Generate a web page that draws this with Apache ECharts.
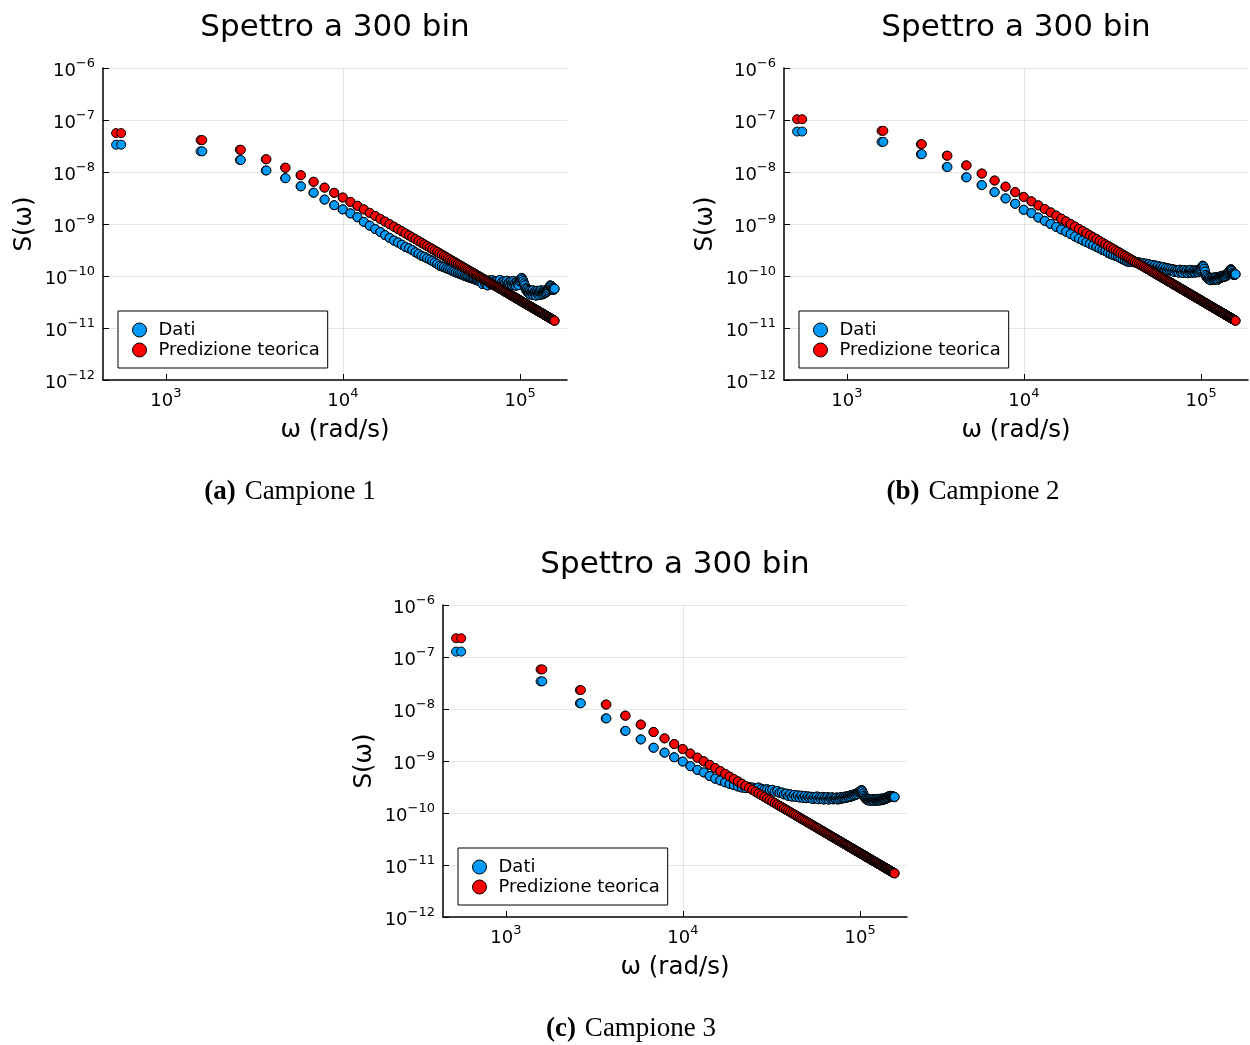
<!DOCTYPE html>
<html>
<head>
<meta charset="utf-8">
<script src="https://cdn.jsdelivr.net/npm/echarts@6/dist/echarts.min.js"></script>
<style>
  html, body { margin: 0; padding: 0; background: #ffffff; }
  #chart { width: 1250px; height: 1045px; }
</style>
</head>
<body>
<div id="chart"></div>
<script>
// Spectral values are listed in units of 1e-9.
const UNIT = 1e-9;

// Each spectrum has 300 bins: 150 pairs of neighbouring angular frequencies (rad/s) sharing one value.
const omegaA = [524, 1571, 2618, 3665, 4712, 5760, 6807, 7854, 8901, 9948,
  10996, 12043, 13090, 14137, 15184, 16232, 17279, 18326, 19373, 20420,
  21468, 22515, 23562, 24609, 25656, 26704, 27751, 28798, 29845, 30892,
  31940, 32987, 34034, 35081, 36128, 37176, 38223, 39270, 40317, 41364,
  42412, 43459, 44506, 45553, 46600, 47648, 48695, 49742, 50789, 51836,
  52884, 53931, 54978, 56025, 57072, 58120, 59167, 60214, 61261, 62308,
  63356, 64403, 65450, 66497, 67544, 68592, 69639, 70686, 71733, 72780,
  73828, 74875, 75922, 76969, 78016, 79064, 80111, 81158, 82205, 83252,
  84300, 85347, 86394, 87441, 88488, 89536, 90583, 91630, 92677, 93724,
  94772, 95819, 96866, 97913, 98960, 100008, 101055, 102102, 103149, 104196,
  105244, 106291, 107338, 108385, 109432, 110480, 111527, 112574, 113621, 114668,
  115716, 116763, 117810, 118857, 119904, 120952, 121999, 123046, 124093, 125140,
  126188, 127235, 128282, 129329, 130376, 131424, 132471, 133518, 134565, 135612,
  136660, 137707, 138754, 139801, 140848, 141896, 142943, 143990, 145037, 146084,
  147132, 148179, 149226, 150273, 151320, 152368, 153415, 154462, 155509, 156556];

const omegaB = [560, 1607, 2654, 3701, 4748, 5796, 6843, 7890, 8937, 9984,
  11032, 12079, 13126, 14173, 15220, 16268, 17315, 18362, 19409, 20456,
  21504, 22551, 23598, 24645, 25692, 26740, 27787, 28834, 29881, 30928,
  31976, 33023, 34070, 35117, 36164, 37212, 38259, 39306, 40353, 41400,
  42448, 43495, 44542, 45589, 46636, 47684, 48731, 49778, 50825, 51872,
  52920, 53967, 55014, 56061, 57108, 58156, 59203, 60250, 61297, 62344,
  63392, 64439, 65486, 66533, 67580, 68628, 69675, 70722, 71769, 72816,
  73864, 74911, 75958, 77005, 78052, 79100, 80147, 81194, 82241, 83288,
  84336, 85383, 86430, 87477, 88524, 89572, 90619, 91666, 92713, 93760,
  94808, 95855, 96902, 97949, 98996, 100044, 101091, 102138, 103185, 104232,
  105280, 106327, 107374, 108421, 109468, 110516, 111563, 112610, 113657, 114704,
  115752, 116799, 117846, 118893, 119940, 120988, 122035, 123082, 124129, 125176,
  126224, 127271, 128318, 129365, 130412, 131460, 132507, 133554, 134601, 135648,
  136696, 137743, 138790, 139837, 140884, 141932, 142979, 144026, 145073, 146120,
  147168, 148215, 149262, 150309, 151356, 152404, 153451, 154498, 155545, 156592];

// Campione 1
const datiA = [33.5, 25, 17, 10.7, 7.6, 5.3, 4.0, 2.95, 2.3, 1.91,
  1.6, 1.35, 1.1, 0.93, 0.8, 0.7, 0.61, 0.54, 0.48, 0.44,
  0.4, 0.36, 0.34, 0.315, 0.285, 0.266, 0.245, 0.234, 0.219, 0.207,
  0.195, 0.182, 0.17, 0.158, 0.153, 0.148, 0.141, 0.136, 0.132, 0.126,
  0.122, 0.117, 0.114, 0.11, 0.107, 0.104, 0.1, 0.098, 0.096, 0.093,
  0.091, 0.089, 0.087, 0.085, 0.083, 0.081, 0.079,
  0.081, 0.07, 0.084, 0.072, 0.077, 0.066, 0.082, 0.074, 0.069, 0.083,
  0.071, 0.078, 0.065, 0.08, 0.073, 0.068, 0.084, 0.07, 0.076, 0.064,
  0.079, 0.072, 0.067, 0.081, 0.069, 0.075, 0.063, 0.078, 0.071, 0.066,
  0.08, 0.068, 0.074, 0.065, 0.077, 0.07, 0.067, 0.079,
  0.083, 0.088, 0.092, 0.086, 0.08, 0.072, 0.066,
  0.058, 0.053, 0.057, 0.049, 0.054, 0.046, 0.052, 0.044, 0.05, 0.047,
  0.053, 0.043, 0.049, 0.046, 0.051, 0.042, 0.048, 0.052, 0.045, 0.049,
  0.043, 0.05, 0.046, 0.053, 0.044, 0.048, 0.051, 0.045, 0.05, 0.047,
  0.053, 0.048, 0.052, 0.05, 0.055, 0.053, 0.058, 0.057,
  0.063, 0.066, 0.061, 0.064, 0.058, 0.06, 0.054, 0.058, 0.055, 0.057];

const predA = [56.0, 41.1, 26.8, 17.6, 12.1, 8.68, 6.49, 5.01, 3.98, 3.23,
  2.67, 2.24, 1.91, 1.64, 1.43, 1.256, 1.111, 0.989, 0.887, 0.799,
  0.724, 0.659, 0.6025, 0.553, 0.509, 0.470, 0.4356, 0.4047, 0.377, 0.352,
  0.3294, 0.309, 0.2904, 0.2734, 0.2578, 0.2435, 0.2304, 0.2184, 0.2072, 0.1969,
  0.1873, 0.1784, 0.1701, 0.1624, 0.1552, 0.1485, 0.1422, 0.1363, 0.1307, 0.1255,
  0.1206, 0.1162, 0.1118, 0.1077, 0.1038, 0.1001, 0.0966, 0.0932, 0.0901, 0.0871,
  0.0842, 0.0815, 0.0789, 0.0764, 0.0741, 0.0718, 0.0697, 0.0676, 0.0657, 0.0638,
  0.0620, 0.0603, 0.0586, 0.0571, 0.0555, 0.0541, 0.0527, 0.0513, 0.0500, 0.0488,
  0.0476, 0.0464, 0.0453, 0.0442, 0.0432, 0.0422, 0.0412, 0.0403, 0.0394, 0.0385,
  0.0376, 0.0368, 0.0360, 0.0353, 0.0345, 0.0338, 0.0331, 0.0324, 0.0318, 0.0311,
  0.0305, 0.0299, 0.0293, 0.0288, 0.0282, 0.0277, 0.0272, 0.0267, 0.0262, 0.0257,
  0.0252, 0.0248, 0.0244, 0.0239, 0.0235, 0.0231, 0.0227, 0.0223, 0.0219, 0.0216,
  0.0212, 0.0209, 0.0205, 0.0202, 0.0199, 0.0196, 0.0193, 0.0190, 0.0187, 0.0184,
  0.0181, 0.0178, 0.0176, 0.0173, 0.0170, 0.0168, 0.0165, 0.0163, 0.0161, 0.0158,
  0.0156, 0.0154, 0.0152, 0.0150, 0.0148, 0.0146, 0.0144, 0.0142, 0.0140, 0.0138];

// Campione 2
const datiB = [60, 38, 22, 12.5, 7.9, 5.6, 4.1, 3.1, 2.45, 1.88,
  1.62, 1.33, 1.15, 1.0, 0.88, 0.785, 0.71, 0.64, 0.575, 0.525,
  0.484, 0.447, 0.417, 0.389, 0.363, 0.339, 0.316, 0.302, 0.279, 0.263,
  0.251, 0.243, 0.232, 0.219, 0.209, 0.2, 0.19, 0.188, 0.186, 0.184,
  0.186, 0.176, 0.183, 0.172, 0.178, 0.166, 0.173, 0.162, 0.168, 0.157,
  0.163, 0.152, 0.16, 0.147, 0.155, 0.143, 0.151, 0.139, 0.148, 0.134,
  0.143, 0.131, 0.14, 0.128, 0.137, 0.125, 0.134, 0.119, 0.131, 0.122,
  0.129, 0.116, 0.132, 0.12, 0.127, 0.114, 0.13, 0.121, 0.117, 0.128,
  0.113, 0.125, 0.119, 0.131, 0.115, 0.124, 0.12, 0.128, 0.116, 0.126,
  0.121, 0.13, 0.118, 0.127, 0.133,
  0.14, 0.15, 0.158, 0.152, 0.138, 0.122,
  0.105, 0.095, 0.099, 0.088, 0.094, 0.085, 0.092, 0.083, 0.09, 0.087,
  0.093, 0.084, 0.091, 0.086, 0.095, 0.088, 0.092, 0.085, 0.094, 0.089,
  0.097, 0.091, 0.099, 0.094, 0.101, 0.095, 0.1, 0.096, 0.103, 0.098,
  0.105, 0.1, 0.108, 0.106, 0.112,
  0.117, 0.121, 0.126, 0.131, 0.135, 0.13, 0.125,
  0.115, 0.108, 0.111, 0.104, 0.109, 0.106, 0.108];

const predB = [103.5, 61.9, 34.3, 20.6, 13.4, 9.34, 6.85, 5.23, 4.11, 3.32,
  2.73, 2.28, 1.94, 1.67, 1.45, 1.268, 1.121, 0.998, 0.893, 0.805,
  0.729, 0.663, 0.6055, 0.555, 0.511, 0.472, 0.4372, 0.4061, 0.3782, 0.3531,
  0.3303, 0.3098, 0.2911, 0.274, 0.2583, 0.2441, 0.2309, 0.2188, 0.2076, 0.1972,
  0.1876, 0.1787, 0.1704, 0.1626, 0.1554, 0.1487, 0.1423, 0.1364, 0.1309, 0.1256,
  0.1207, 0.1162, 0.1118, 0.1077, 0.1038, 0.1001, 0.0966, 0.0932, 0.0901, 0.0871,
  0.0842, 0.0815, 0.0789, 0.0764, 0.0741, 0.0718, 0.0697, 0.0676, 0.0657, 0.0638,
  0.0620, 0.0603, 0.0586, 0.0571, 0.0555, 0.0541, 0.0527, 0.0513, 0.0500, 0.0488,
  0.0476, 0.0464, 0.0453, 0.0442, 0.0432, 0.0422, 0.0412, 0.0403, 0.0394, 0.0385,
  0.0376, 0.0368, 0.0360, 0.0353, 0.0345, 0.0338, 0.0331, 0.0324, 0.0318, 0.0311,
  0.0305, 0.0299, 0.0293, 0.0288, 0.0282, 0.0277, 0.0272, 0.0267, 0.0262, 0.0257,
  0.0252, 0.0248, 0.0244, 0.0239, 0.0235, 0.0231, 0.0227, 0.0223, 0.0219, 0.0216,
  0.0212, 0.0209, 0.0205, 0.0202, 0.0199, 0.0196, 0.0193, 0.0190, 0.0187, 0.0184,
  0.0181, 0.0178, 0.0176, 0.0173, 0.0170, 0.0168, 0.0165, 0.0163, 0.0161, 0.0158,
  0.0156, 0.0154, 0.0152, 0.0150, 0.0148, 0.0146, 0.0144, 0.0142, 0.0140, 0.0138];

// Campione 3
const datiC = [127, 34, 12.9, 6.6, 3.8, 2.6, 1.8, 1.45, 1.18, 0.975,
  0.795, 0.676, 0.603, 0.513, 0.457, 0.422, 0.389, 0.363, 0.343, 0.324,
  0.309, 0.302, 0.316, 0.309, 0.295, 0.309, 0.292, 0.282, 0.285, 0.275,
  0.279, 0.258, 0.265, 0.245, 0.248, 0.228, 0.236, 0.214, 0.228, 0.207,
  0.222, 0.204, 0.218, 0.199, 0.215, 0.196, 0.212, 0.193, 0.208, 0.195,
  0.205, 0.186, 0.203, 0.19, 0.207, 0.184, 0.2, 0.188, 0.204, 0.182,
  0.198, 0.186, 0.202, 0.181, 0.196, 0.189, 0.2, 0.183, 0.194, 0.187,
  0.199, 0.182, 0.195, 0.186, 0.202, 0.19, 0.198, 0.205, 0.193, 0.207,
  0.198, 0.212, 0.203, 0.216, 0.206, 0.221, 0.211, 0.226, 0.218, 0.231,
  0.224, 0.238, 0.23, 0.249, 0.256, 0.262, 0.27, 0.275, 0.26, 0.236,
  0.215, 0.2, 0.19, 0.185, 0.178, 0.183, 0.174, 0.181, 0.176, 0.184,
  0.172, 0.18, 0.175, 0.186, 0.171, 0.182, 0.177, 0.185, 0.173, 0.181,
  0.176, 0.187, 0.174, 0.183, 0.178, 0.189, 0.176, 0.185, 0.181, 0.19,
  0.183, 0.193, 0.186, 0.197, 0.19, 0.2, 0.195, 0.206, 0.199, 0.21,
  0.203, 0.214, 0.207, 0.212, 0.205, 0.209, 0.202, 0.207, 0.201, 0.204];

const predC = [229.6, 57.7, 23.1, 12.17, 7.45, 5.02, 3.61, 2.72, 2.12, 1.70,
  1.39, 1.16, 0.984, 0.844, 0.731, 0.640, 0.565, 0.502, 0.450, 0.405,
  0.366, 0.333, 0.304, 0.279, 0.2566, 0.2368, 0.2193, 0.2037, 0.1897, 0.1770,
  0.1656, 0.1553, 0.1459, 0.1373, 0.1295, 0.1223, 0.1157, 0.1096, 0.1040, 0.0988,
  0.0940, 0.0895, 0.0853, 0.0814, 0.0778, 0.0744, 0.0713, 0.0683, 0.0655, 0.0629,
  0.0604, 0.0581, 0.0559, 0.0539, 0.0519, 0.0501, 0.0483, 0.0466, 0.0451, 0.0436,
  0.0421, 0.0408, 0.0395, 0.0382, 0.0371, 0.0359, 0.0349, 0.0338, 0.0329, 0.0319,
  0.0310, 0.0302, 0.0293, 0.0286, 0.0278, 0.0271, 0.0264, 0.0257, 0.0250, 0.0244,
  0.0238, 0.0232, 0.0227, 0.0221, 0.0216, 0.0211, 0.0206, 0.0202, 0.0197, 0.0193,
  0.0188, 0.0184, 0.0180, 0.0177, 0.0173, 0.0169, 0.0166, 0.0162, 0.0159, 0.0156,
  0.0153, 0.0150, 0.0147, 0.0144, 0.0141, 0.0139, 0.0136, 0.0134, 0.0131, 0.0129,
  0.0126, 0.0124, 0.0122, 0.0120, 0.0118, 0.0116, 0.0114, 0.0112, 0.0110, 0.0108,
  0.0106, 0.0105, 0.0103, 0.0101, 0.0100, 0.0098, 0.0097, 0.0095, 0.0094, 0.0092,
  0.0091, 0.0089, 0.0088, 0.0087, 0.0085, 0.0084, 0.0083, 0.0082, 0.0081, 0.0079,
  0.0078, 0.0077, 0.0076, 0.0075, 0.0074, 0.0073, 0.0072, 0.0071, 0.0070, 0.0069];

// Axis ranges and tick positions
const xRange = [442, 184000];
const yRange = [1e-12, 1e-6];
const xTicks = [1e3, 1e4, 1e5];
const yTicks = [1e-12, 1e-11, 1e-10, 1e-9, 1e-8, 1e-7, 1e-6];

const seriesNames = ['Dati', 'Predizione teorica'];
const titleText = 'Spettro a 300 bin';
const xName = 'ω (rad/s)';
const yName = 'S(ω)';

const panels = [
  { tag: '(a)', caption: 'Campione 1', dati: datiA, pred: predA,
    grid: { left: 103, top: 68, width: 464, height: 312 },
    legend: { left: 118, top: 311 }, titleAt: [335, 28], captionAt: [290, 492] },
  { tag: '(b)', caption: 'Campione 2', dati: datiB, pred: predB,
    grid: { left: 784, top: 68, width: 464, height: 312 },
    legend: { left: 799, top: 311 }, titleAt: [1016, 28], captionAt: [973, 492] },
  { tag: '(c)', caption: 'Campione 3', dati: datiC, pred: predC,
    grid: { left: 443, top: 605, width: 464, height: 312 },
    legend: { left: 458, top: 848 }, titleAt: [675, 565], captionAt: [631, 1029] }
];

const SANS = '"DejaVu Sans", sans-serif';
const SERIF = '"Liberation Serif", "DejaVu Serif", serif';
const BLUE = '#009afa';
const RED = '#ff0000';

function powerLabel(v) {
  const e = Math.round(Math.log10(v));
  return '{b|10}{s|' + String(e).replace('-', '\u2212') + '}';
}
const powerRich = {
  b: { fontFamily: SANS, fontSize: 18, color: '#000', lineHeight: 18, verticalAlign: 'bottom' },
  s: { fontFamily: SANS, fontSize: 13, color: '#000', lineHeight: 13, padding: [0, 0, 10, 0], verticalAlign: 'bottom' }
};

function pairs(vals) {
  const out = [];
  for (let k = 0; k < omegaA.length; k++) {
    out.push([omegaA[k], vals[k] * UNIT]);
    out.push([omegaB[k], vals[k] * UNIT]);
  }
  return out;
}

const grid = [], xAxis = [], yAxis = [], series = [], legend = [], graphic = [];

panels.forEach((p, i) => {
  grid.push(Object.assign({ containLabel: false, outerBoundsMode: 'none' }, p.grid));

  xAxis.push({
    type: 'log', logBase: 10, gridIndex: i, min: xRange[0], max: xRange[1],
    name: xName, nameLocation: 'middle', nameGap: 38,
    nameTextStyle: { fontFamily: SANS, fontSize: 24.5, color: '#000' },
    axisLine: { show: true, onZero: false, lineStyle: { color: '#000', width: 1.5 } },
    axisTick: { show: true, inside: true, length: 6, customValues: xTicks, lineStyle: { color: '#000', width: 1 } },
    axisLabel: { show: true, customValues: xTicks, formatter: powerLabel, rich: powerRich, margin: 12 },
    splitLine: { show: true, showMinLine: false, showMaxLine: false, lineStyle: { color: 'rgba(0,0,0,0.1)', width: 1 } },
    minorTick: { show: false }, minorSplitLine: { show: false }
  });

  yAxis.push({
    type: 'log', logBase: 10, gridIndex: i, min: yRange[0], max: yRange[1],
    name: yName, nameLocation: 'middle', nameGap: 66, nameRotate: 90,
    nameTextStyle: { fontFamily: SANS, fontSize: 24.5, color: '#000' },
    axisLine: { show: true, onZero: false, lineStyle: { color: '#000', width: 1.5 } },
    axisTick: { show: true, inside: true, length: 6, customValues: yTicks, lineStyle: { color: '#000', width: 1 } },
    axisLabel: { show: true, customValues: yTicks, formatter: powerLabel, rich: powerRich, margin: 8, padding: [7, 0, 0, 0] },
    splitLine: { show: true, showMinLine: false, lineStyle: { color: 'rgba(0,0,0,0.1)', width: 1 } },
    minorTick: { show: false }, minorSplitLine: { show: false }
  });

  // Each marker is painted fill-then-outline, one after another in data order.
  [[seriesNames[0], p.dati, BLUE], [seriesNames[1], p.pred, RED]].forEach(([name, vals, color]) => {
    series.push({
      type: 'scatter', name, xAxisIndex: i, yAxisIndex: i, data: pairs(vals),
      symbol: 'circle', symbolSize: 9, silent: true, animation: false, large: false,
      itemStyle: { color, borderColor: '#000', borderWidth: 1, opacity: 1 },
      emphasis: { disabled: true }
    });
  });

  legend.push({
    orient: 'vertical', left: p.legend.left, top: p.legend.top,
    padding: [10, 8, 9, 14], itemGap: 2, itemWidth: 14, itemHeight: 14,
    icon: 'circle', data: seriesNames, selectedMode: false,
    backgroundColor: '#fff', borderColor: '#000', borderWidth: 1, borderRadius: 0,
    textStyle: { fontFamily: SANS, fontSize: 18, color: '#000', padding: [0, 0, 0, 7] },
    itemStyle: { borderColor: '#000', borderWidth: 1 }
  });

  graphic.push({
    type: 'text', x: p.titleAt[0], y: p.titleAt[1], silent: true,
    style: { text: titleText, font: '31px ' + SANS, fill: '#000', align: 'center', verticalAlign: 'middle' }
  });
  graphic.push({
    type: 'text', x: p.captionAt[0], y: p.captionAt[1], silent: true,
    style: {
      text: '{t|' + p.tag + '}{c|' + p.caption + '}', align: 'center', verticalAlign: 'middle', fill: '#000',
      rich: {
        t: { fontFamily: SERIF, fontSize: 27, fontWeight: 'bold', fill: '#000', padding: [0, 9, 0, 0] },
        c: { fontFamily: SERIF, fontSize: 27, fill: '#000' }
      }
    }
  });
});

const chart = echarts.init(document.getElementById('chart'), null, { renderer: 'canvas' });
chart.setOption({
  backgroundColor: '#ffffff',
  animation: false,
  textStyle: { fontFamily: SANS },
  grid, xAxis, yAxis, series, legend, graphic,
  tooltip: { show: false }
});
</script>
</body>
</html>
